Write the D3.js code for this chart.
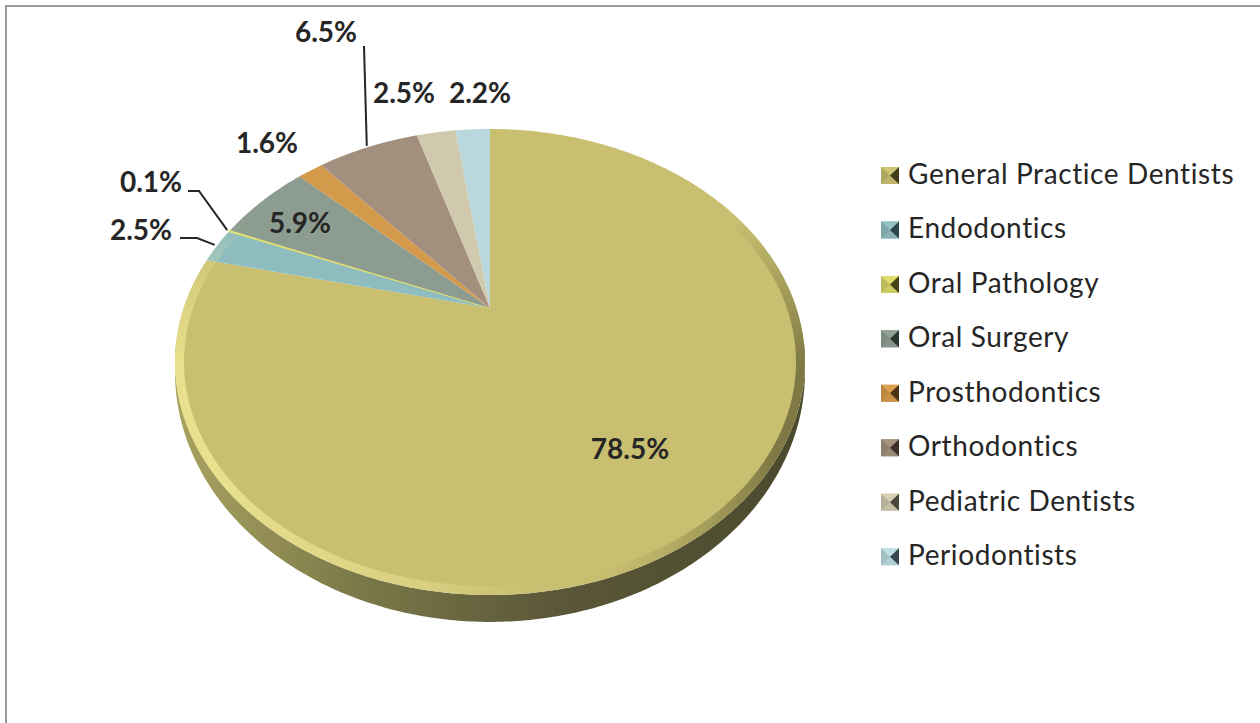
<!DOCTYPE html>
<html>
<head>
<meta charset="utf-8">
<script src="https://cdn.jsdelivr.net/npm/d3@7/dist/d3.min.js"></script>
<style>
  body { margin: 0; background: #fff; }
  svg { display: block; }
</style>
</head>
<body>
<svg id="chart" width="1260" height="723"></svg>
<script>
// chart data
let categories = ['General Practice Dentists', 'Endodontics', 'Oral Pathology', 'Oral Surgery',
  'Prosthodontics', 'Orthodontics', 'Pediatric Dentists', 'Periodontists'];
let shares = [78.5, 2.5, 0.1, 5.9, 1.6, 6.5, 2.5, 2.2];

// styling
let colors = ['#c8bf70', '#8fbcbf', '#d8d468', '#8c9c90', '#d49a4c', '#a28f7d', '#d0c9ae', '#b9d8de'];
let legendDark = ['#3f3c1c', '#2f4446', '#45421a', '#2e3632', '#4a3416', '#3a3029', '#4a473a', '#34484c'];

// label placement (text anchor middle, baseline) and leader bends
let labelPos = [
  { x: 630, y: 459 },
  { x: 141, y: 240, leader: [[180, 238], [197, 238]] },
  { x: 151, y: 192, leader: [[188, 191], [199, 191]] },
  { x: 300, y: 233 },
  { x: 267, y: 153 },
  { x: 326, y: 42, leader: [[364, 46]] },
  { x: 404, y: 103 },
  { x: 480, y: 103 }
];

let svg = d3.select('#chart');

// projected disc: perspective tilt
let CX = 490, CY = 308, RX = 306.4, RY = 220.5, P = 0.2317, DROP = 20.7;
let proj = (a, r, drop) => {
  let u = Math.sin(a) * r, v = -Math.cos(a) * r;
  let w = 1 - P * v;
  let d = (drop || 0) * (0.3 + 0.7 * Math.max(0, v));
  return [CX + RX * u / w, CY + RY * v / w + d / w];
};
let line = d3.line();

let arcPoints = (a0, a1, r, drop) => {
  let n = Math.max(2, Math.ceil(Math.abs(a1 - a0) / 0.01));
  let pts = [];
  for (let i = 0; i <= n; i++) pts.push(proj(a0 + (a1 - a0) * i / n, r, drop));
  return pts;
};

let defs = svg.append('defs');
let sideGrad = defs.append('linearGradient').attr('id', 'side').attr('x1', 0).attr('x2', 1);
sideGrad.append('stop').attr('offset', '0%').attr('stop-color', '#a9a360');
sideGrad.append('stop').attr('offset', '30%').attr('stop-color', '#7a7748');
sideGrad.append('stop').attr('offset', '60%').attr('stop-color', '#5a5838');
sideGrad.append('stop').attr('offset', '100%').attr('stop-color', '#4c4a2e');

let rimGrad = defs.append('linearGradient').attr('id', 'rim')
  .attr('x1', 0.05).attr('y1', 0.7).attr('x2', 0.95).attr('y2', 0.7);
rimGrad.append('stop').attr('offset', '0%').attr('stop-color', '#fff7a0').attr('stop-opacity', 0.6);
rimGrad.append('stop').attr('offset', '40%').attr('stop-color', '#f4eca0').attr('stop-opacity', 0.35);
rimGrad.append('stop').attr('offset', '65%').attr('stop-color', '#c8bf70').attr('stop-opacity', 0);
rimGrad.append('stop').attr('offset', '85%').attr('stop-color', '#6a6636').attr('stop-opacity', 0.3);
rimGrad.append('stop').attr('offset', '100%').attr('stop-color', '#4e4a26').attr('stop-opacity', 0.6);

// fade the rim out toward the back of the disc
let fade = defs.append('linearGradient').attr('id', 'fade').attr('x1', 0).attr('y1', 0).attr('x2', 0).attr('y2', 1);
fade.append('stop').attr('offset', '20%').attr('stop-color', '#000');
fade.append('stop').attr('offset', '50%').attr('stop-color', '#fff');
fade.append('stop').attr('offset', '100%').attr('stop-color', '#fff');
defs.append('mask').attr('id', 'rimmask')
  .attr('maskUnits', 'userSpaceOnUse').attr('x', 0).attr('y', 0).attr('width', 1260).attr('height', 723)
  .append('rect').attr('x', 150).attr('y', 120).attr('width', 700).attr('height', 490).attr('fill', 'url(#fade)');

// frame
svg.append('path')
  .attr('d', 'M6,730 L6,6 L1270,6')
  .attr('fill', 'none').attr('stroke', '#9a9a9a').attr('stroke-width', 2);

// side of the disc (front half)
let aR = Math.acos(-P), aL = 2 * Math.PI - aR;
let sidePts = arcPoints(aR - 0.1, aL + 0.1, 1, 0)
  .concat(arcPoints(aL + 0.1, aR - 0.1, 1, DROP));
svg.append('path')
  .attr('d', line(sidePts) + 'Z')
  .attr('fill', 'url(#side)');

// slices
let pie = d3.pie().sort(null).value(d => d);
let arcs = pie(shares);

svg.append('g').selectAll('path')
  .data(arcs)
  .enter()
  .append('path')
  .attr('d', d => line([[CX, CY]].concat(arcPoints(d.startAngle, d.endAngle, 1, 0))) + 'Z')
  .attr('fill', (d, i) => colors[i])
  .attr('stroke', (d, i) => i === 2 ? '#e4e070' : 'none')
  .attr('stroke-width', 1.5);

// bevel rim on the top face
let topOutline = line(arcPoints(0, 2 * Math.PI, 1, 0)) + 'Z';
defs.append('clipPath').attr('id', 'topclip').append('path').attr('d', topOutline);
svg.append('g')
  .attr('clip-path', 'url(#topclip)')
  .attr('mask', 'url(#rimmask)')
  .append('path')
  .attr('d', topOutline)
  .attr('fill', 'none')
  .attr('stroke', 'url(#rim)')
  .attr('stroke-width', 18);

// data labels
let labelG = svg.append('g');
arcs.forEach((d, i) => {
  let lp = labelPos[i];
  if (lp.leader) {
    let mid = (d.startAngle + d.endAngle) / 2;
    let pts = lp.leader.concat([proj(mid, 1.01, 0)]);
    labelG.append('path')
      .attr('d', line(pts))
      .attr('fill', 'none')
      .attr('stroke', '#262626')
      .attr('stroke-width', 2);
  }
  labelG.append('text')
    .attr('x', lp.x)
    .attr('y', lp.y)
    .attr('text-anchor', 'middle')
    .attr('font-family', 'Lato, "Open Sans", sans-serif')
    .attr('font-weight', 'bold')
    .attr('font-size', 28)
    .attr('fill', '#262626')
    .text(shares[i].toFixed(1) + '%');
});

// legend
let legend = svg.append('g').attr('transform', 'translate(881,0)');
let item = legend.selectAll('g')
  .data(categories)
  .enter()
  .append('g')
  .attr('transform', (d, i) => `translate(0,${184 + i * 54.45})`);

// little pyramid-bevel marker
item.each(function (d, i) {
  let g = d3.select(this);
  let w = 18, h = 17, cx = 9, cy = -8.5;
  let c = d3.color(colors[i]);
  g.append('rect').attr('x', 0).attr('y', -h).attr('width', w).attr('height', h).attr('fill', colors[i]);
  g.append('path').attr('d', `M0,${-h}L${w},${-h}L${cx},${cy}Z`).attr('fill', c.brighter(0.1));
  g.append('path').attr('d', `M0,0L${w},0L${cx},${cy}Z`).attr('fill', c.darker(0.15));
  g.append('path').attr('d', `M0,${-h}L0,0L${cx},${cy}Z`).attr('fill', c.darker(0.35));
  g.append('path').attr('d', `M${w},${-h}L${w},0L${cx},${cy}Z`).attr('fill', legendDark[i]);
});

item.append('text')
  .attr('x', 27)
  .attr('y', 0)
  .attr('font-family', 'Lato, "Open Sans", sans-serif')
  .attr('font-size', 28)
  .attr('letter-spacing', 0.6)
  .attr('fill', '#262626')
  .text(d => d);
</script>
</body>
</html>
